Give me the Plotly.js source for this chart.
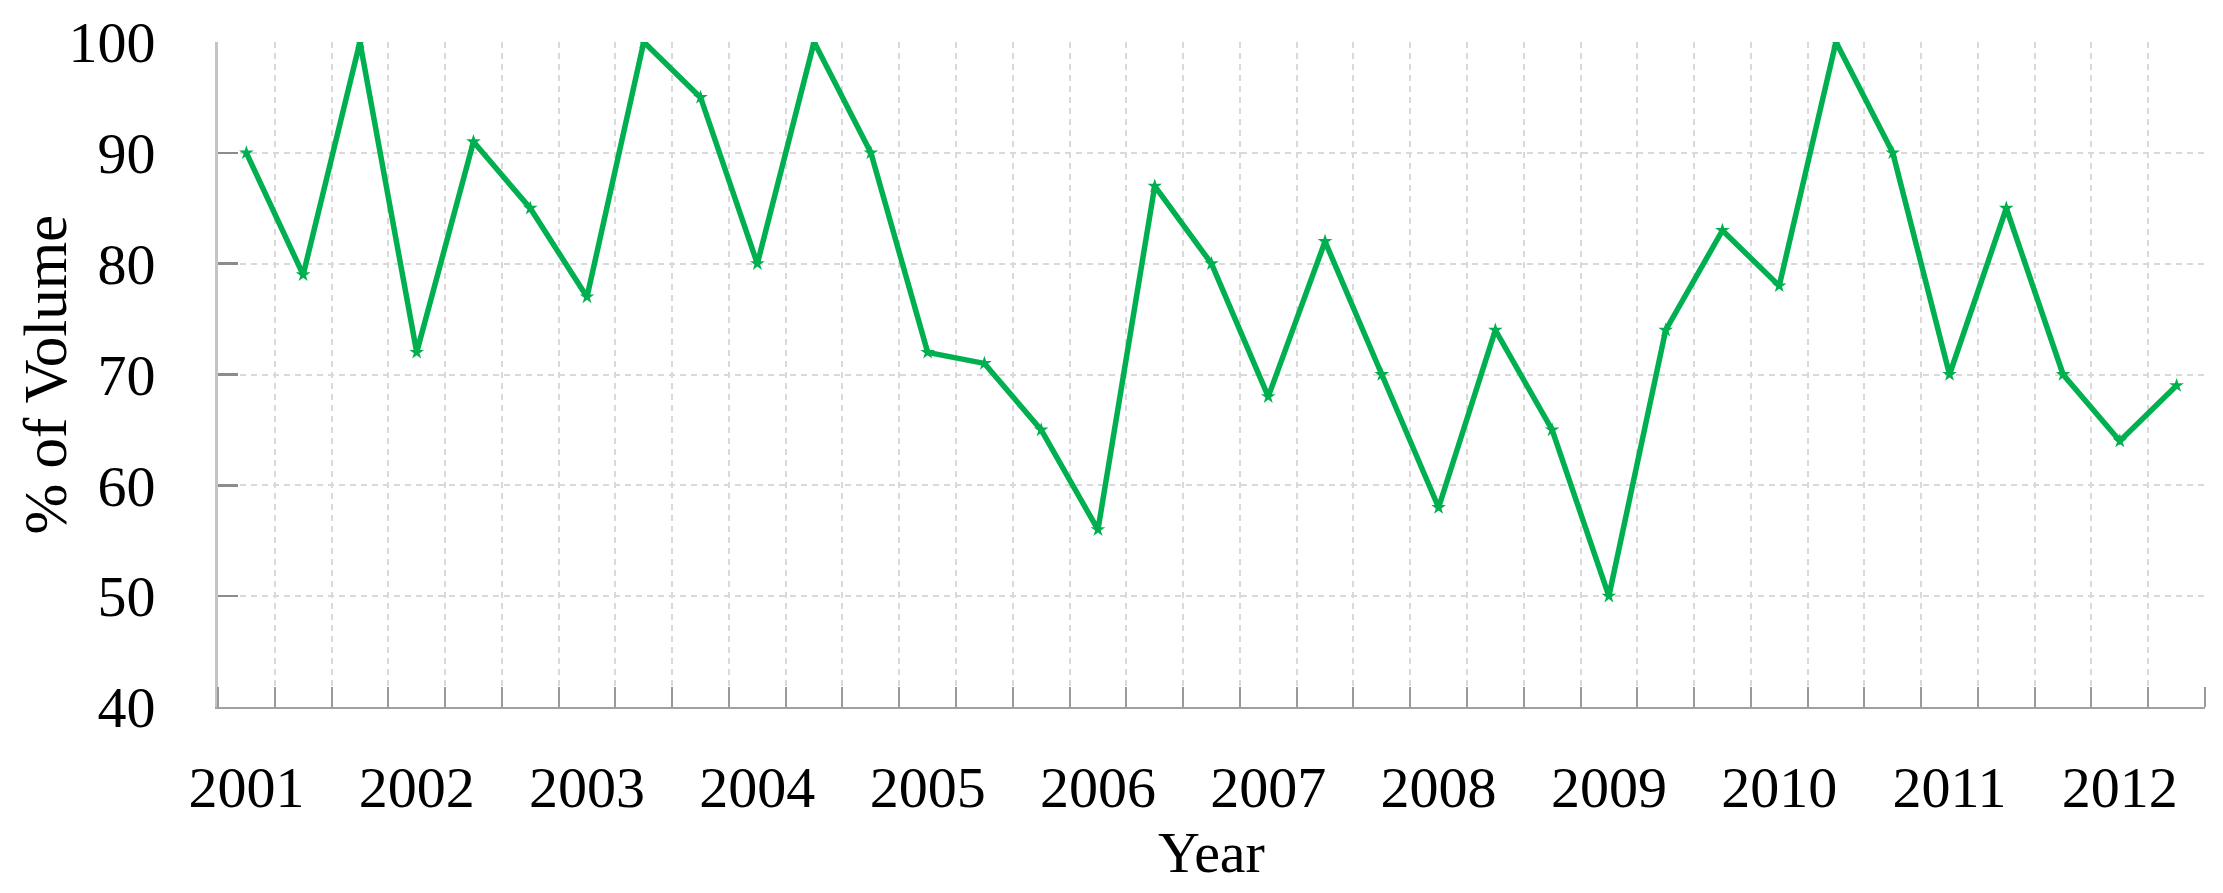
<!DOCTYPE html>
<html>
<head>
<meta charset="utf-8">
<script src="https://cdn.plot.ly/plotly-3.0.1.min.js"></script>
<style>
  html, body { margin: 0; padding: 0; background: #fff; }
  #myGraph { width: 2223px; height: 893px; }
</style>
</head>
<body>
<div id="myGraph"></div>
<script>
// three readings per year, 2001 .. 2012
let years = ['2001', '2002', '2003', '2004', '2005', '2006',
             '2007', '2008', '2009', '2010', '2011', '2012'];

let volume = [90, 79, 100, 72, 91, 85, 77, 100, 95, 80,
              100, 90, 72, 71, 65, 56, 87, 80, 68, 82,
              70, 58, 74, 65, 50, 74, 83, 78, 100, 90,
              70, 85, 70, 64, 69];

let perYear = 3;

let xs = volume.map((v, i) => i);
let yearPos = years.map((y, i) => i * perYear);

let trace1 = {
    type: 'scatter',
    mode: 'lines+markers',
    x: xs,
    y: volume,
    line: {
        color: '#00b050',
        width: 5.5
    },
    marker: {
        symbol: 'star',
        size: 11,
        color: '#00b050'
    },
    hoverinfo: 'x+y'
};

let font = 'Liberation Serif, Times New Roman, serif';

let layout = {
    width: 2223,
    height: 893,
    margin: {l: 218, r: 18, t: 42, b: 186},
    paper_bgcolor: '#ffffff',
    plot_bgcolor: '#ffffff',
    showlegend: false,
    font: {family: font, size: 58, color: '#000'},
    xaxis: {
        range: [-0.5, volume.length - 0.5],
        tickmode: 'array',
        tickvals: yearPos,
        ticktext: years,
        ticks: '',
        showgrid: false,
        zeroline: false,
        showline: true,
        linecolor: '#a0a0a0',
        linewidth: 2,
        ticklabelstandoff: 28,
        tickfont: {family: font, size: 58, color: '#000'},
        minor: {
            tickmode: 'linear',
            tick0: 0.5,
            dtick: 1,
            ticks: 'inside',
            ticklen: 20,
            tickwidth: 2,
            tickcolor: '#999999',
            showgrid: true,
            gridcolor: '#d9d9d9',
            gridwidth: 2,
            griddash: '6px,5px'
        },
        title: {
            text: 'Year',
            font: {family: font, size: 58, color: '#000'},
            standoff: 13
        }
    },
    yaxis: {
        range: [40, 100],
        tickmode: 'linear',
        tick0: 40,
        dtick: 10,
        ticks: 'inside',
        ticklen: 20,
        tickwidth: 2.5,
        tickcolor: '#8c8c8c',
        showgrid: true,
        gridcolor: '#d9d9d9',
        gridwidth: 2,
        griddash: '6px,5px',
        zeroline: false,
        showline: true,
        linecolor: '#c4c4c4',
        linewidth: 3,
        ticklabelstandoff: 48,
        tickfont: {family: font, size: 58, color: '#000'}
    },
    // y title placed by hand so it sits where the original has it
    annotations: [{
        text: '% of Volume',
        textangle: -90,
        xref: 'paper',
        yref: 'paper',
        x: 0,
        y: 0.5,
        xanchor: 'center',
        yanchor: 'middle',
        xshift: -173,
        showarrow: false,
        font: {family: font, size: 61, color: '#000'}
    }]
};

Plotly.newPlot('myGraph', [trace1], layout, {staticPlot: true});
</script>
</body>
</html>
